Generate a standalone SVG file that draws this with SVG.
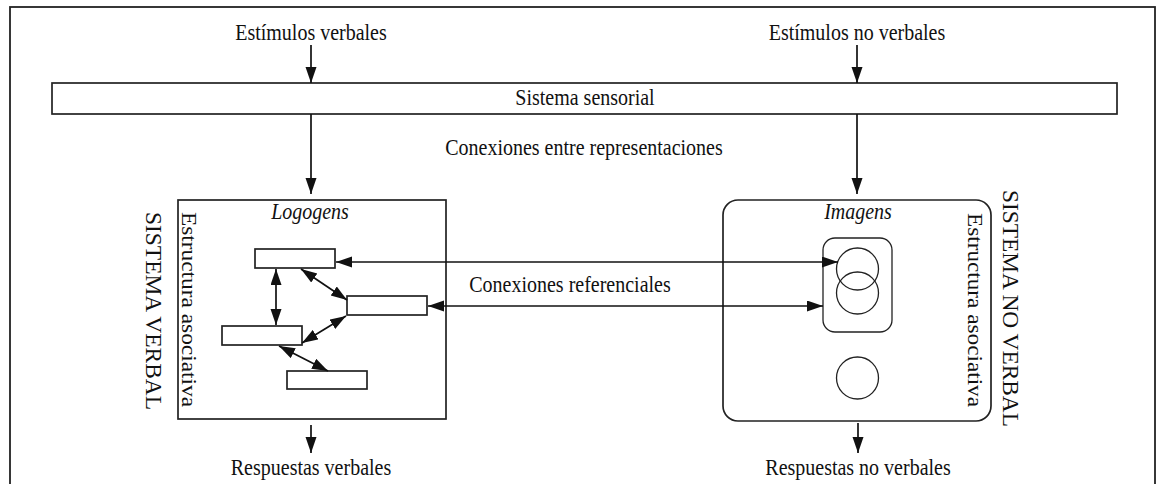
<svg xmlns="http://www.w3.org/2000/svg" width="1162" height="484" viewBox="0 0 1162 484">
<style>
.t{font-family:"Liberation Serif","Times New Roman",serif;font-size:20px;fill:#111;text-anchor:middle}
.i{font-style:italic}
.v{font-family:"Liberation Serif","Times New Roman",serif;font-size:23px;fill:#111;text-anchor:start}
.box{fill:#fff;stroke:#222;stroke-width:1.7}
.thin{fill:none;stroke:#222;stroke-width:1.3}
.ln{stroke:#111;stroke-width:1.7;fill:none}
.one{marker-end:url(#ah)}
.two{marker-start:url(#ah);marker-end:url(#ah)}
</style>
<defs>
<marker id="ah" markerUnits="userSpaceOnUse" markerWidth="17" markerHeight="12" refX="16" refY="5.5" orient="auto-start-reverse" viewBox="0 0 17 12">
<path d="M0,0 L16,5.5 L0,11 z" fill="#111"/>
</marker>
</defs>
<rect x="0" y="0" width="1162" height="484" fill="#fff"/>
<rect x="10" y="7" width="1145" height="500" fill="none" stroke="#222" stroke-width="1.8"/>

<g id="estimulos-verbales"><text class="t" transform="translate(311,40) scale(1,1.2)">Estímulos verbales</text></g>
<g id="estimulos-no-verbales"><text class="t" transform="translate(857,40) scale(1,1.2)">Estímulos no verbales</text></g>

<g id="sistema-sensorial">
<rect class="box" x="52" y="83" width="1065" height="31"/>
<text class="t" transform="translate(585,105) scale(1,1.2)">Sistema sensorial</text>
</g>

<g id="conexiones-entre"><text class="t" transform="translate(584,155) scale(1,1.2)">Conexiones entre representaciones</text></g>

<g id="sistema-verbal">
<rect class="box" x="178" y="200" width="268" height="219"/>
<text class="t i" transform="translate(310,219) scale(1,1.2)">Logogens</text>
<text class="v" transform="translate(146,212) rotate(90)" textLength="198" lengthAdjust="spacingAndGlyphs">SISTEMA VERBAL</text>
<text class="v" transform="translate(182,212) rotate(90)" textLength="195" lengthAdjust="spacingAndGlyphs" style="font-size:21px">Estructura asociativa</text>
<rect id="logogen1" class="box" x="255" y="249" width="80" height="19"/>
<rect id="logogen2" class="box" x="347" y="296" width="80" height="19"/>
<rect id="logogen3" class="box" x="222" y="326" width="80" height="19"/>
<rect id="logogen4" class="box" x="287" y="371" width="80" height="18"/>
</g>

<g id="sistema-no-verbal">
<rect class="box" x="723" y="200" width="268" height="221" rx="15" ry="15"/>
<text class="t i" transform="translate(858,219) scale(1,1.2)">Imagens</text>
<text class="v" transform="translate(1003,190) rotate(90)" textLength="237" lengthAdjust="spacingAndGlyphs">SISTEMA NO VERBAL</text>
<text class="v" transform="translate(968,213) rotate(90)" textLength="194" lengthAdjust="spacingAndGlyphs" style="font-size:21px">Estructura asociativa</text>
<rect class="thin" x="823" y="238" width="69" height="94" rx="12" ry="12"/>
<circle class="thin" cx="857.5" cy="269" r="21"/>
<circle class="thin" cx="857.5" cy="293" r="21"/>
<circle class="thin" cx="857.5" cy="378" r="21"/>
</g>

<g id="conexiones-referenciales"><text class="t" transform="translate(570,292) scale(1,1.2)">Conexiones referenciales</text></g>

<g id="respuestas-verbales"><text class="t" transform="translate(311,475) scale(1,1.2)">Respuestas verbales</text></g>
<g id="respuestas-no-verbales"><text class="t" transform="translate(858,475) scale(1,1.2)">Respuestas no verbales</text></g>

<g id="connectors">
<line class="ln one" x1="311" y1="45" x2="311" y2="83"/>
<line class="ln one" x1="857" y1="45" x2="857" y2="83"/>
<line class="ln one" x1="311" y1="114" x2="311" y2="194"/>
<line class="ln one" x1="857" y1="114" x2="857" y2="194"/>
<line class="ln one" x1="311" y1="425" x2="311" y2="453"/>
<line class="ln one" x1="858" y1="423" x2="858" y2="453"/>
<line class="ln two" x1="336" y1="262" x2="838" y2="262"/>
<line class="ln two" x1="428" y1="306" x2="823" y2="306"/>
<line class="ln two" x1="276" y1="269" x2="276" y2="325"/>
<line class="ln two" x1="301" y1="269" x2="347" y2="300"/>
<line class="ln two" x1="346" y1="316" x2="302" y2="343"/>
<line class="ln two" x1="279" y1="346" x2="328" y2="371"/>
</g>
</svg>
